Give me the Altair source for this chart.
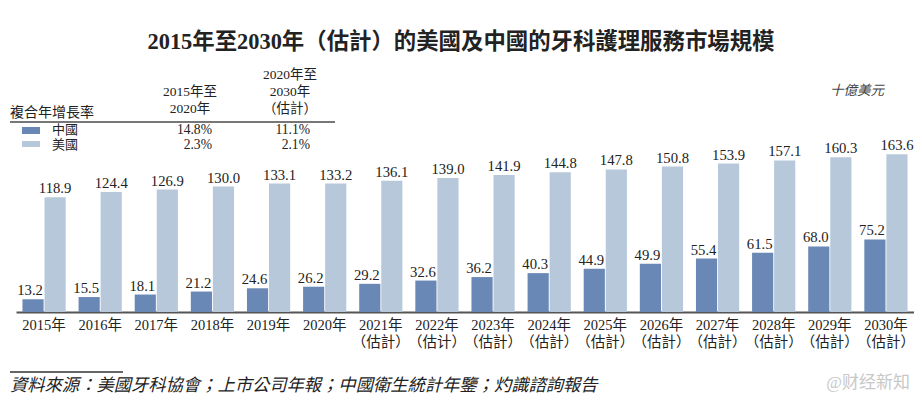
import altair as alt
import pandas as pd

years = ["2015年", "2016年", "2017年", "2018年", "2019年", "2020年",
         "2021年\n（估計）", "2022年\n（估计）", "2023年\n（估計）", "2024年\n（估計）",
         "2025年\n（估計）", "2026年\n（估計）", "2027年\n（估計）", "2028年\n（估計）",
         "2029年\n（估計）", "2030年\n（估計）"]
china = [13.2, 15.5, 18.1, 21.2, 24.6, 26.2, 29.2, 32.6, 36.2, 40.3, 44.9, 49.9, 55.4, 61.5, 68.0, 75.2]
usa = [118.9, 124.4, 126.9, 130.0, 133.1, 133.2, 136.1, 139.0, 141.9, 144.8, 147.8, 150.8, 153.9, 157.1, 160.3, 163.6]
series = ["中國", "美國"]
cagr_1520 = ["14.8%", "2.3%"]
cagr_2030 = ["11.1%", "2.1%"]

FONT = "Liberation Serif, Noto Sans CJK TC"
C_CN = "#6a88b5"
C_US = "#b7c8db"

rows = []
for i, y in enumerate(years):
    rows.append({"year": y, "series": "中國", "value": china[i], "order": 0})
    rows.append({"year": y, "series": "美國", "value": usa[i], "order": 1})
df = pd.DataFrame(rows)

x_enc = alt.X("year:N", sort=years,
              scale=alt.Scale(paddingInner=0.23, paddingOuter=0.115),
              axis=alt.Axis(title=None, labelAngle=0, ticks=False, domainColor="#555555",
                            domainWidth=2, labelFont=FONT, labelFontSize=14.5,
                            labelColor="#222222", labelPadding=6, labelLineHeight=17,
                            labelBaseline="top",
                            labelExpr="split(datum.label, '\\n')"))
xo_enc = alt.XOffset("series:N", sort=series, scale=alt.Scale(paddingInner=0.04))
y_enc = alt.Y("value:Q", scale=alt.Scale(domain=[0, 170]), axis=None)
color_enc = alt.Color("series:N", sort=series,
                      scale=alt.Scale(domain=series, range=[C_CN, C_US]), legend=None)

base = alt.Chart(df)
bars = base.mark_bar().encode(x=x_enc, xOffset=xo_enc, y=y_enc, color=color_enc)
lab_cn = base.transform_filter("datum.series == '中國'").mark_text(
    font=FONT, fontSize=14.7, color="#222222", baseline="bottom", dy=-1, dx=-3
).encode(x=x_enc, xOffset=xo_enc, y=y_enc, text=alt.Text("value:Q", format=".1f"))
lab_us = base.transform_filter("datum.series == '美國'").mark_text(
    font=FONT, fontSize=14.7, color="#222222", baseline="bottom", dy=-1
).encode(x=x_enc, xOffset=xo_enc, y=y_enc, text=alt.Text("value:Q", format=".1f"))

one = pd.DataFrame({"k": [0]})


def txt(s, x, y, size=13.5, align="center", weight="normal", style="normal", color="#222222"):
    return alt.Chart(one).mark_text(
        font=FONT, fontSize=size, align=align, baseline="middle",
        fontWeight=weight, fontStyle=style, color=color
    ).encode(x=alt.value(x), y=alt.value(y), text=alt.value(s))


def rule(x1, x2, y, color, w):
    return alt.Chart(one).mark_rule(color=color, strokeWidth=w).encode(
        x=alt.value(x1), x2=alt.value(x2), y=alt.value(y))


def rect(x1, x2, y1, y2, color):
    return alt.Chart(one).mark_rect(color=color).encode(
        x=alt.value(x1), x2=alt.value(x2), y=alt.value(y1), y2=alt.value(y2))


ann = [
    txt("2015年至2030年（估計）的美國及中國的牙科護理服務市場規模", 445, -106, size=22.4, weight="bold"),
    txt("複合年增長率", -6, -35, size=14, align="left"),
    txt("2015年至", 174, -56),
    txt("2020年", 174, -39),
    txt("2020年至", 274, -73),
    txt("2030年", 274, -56),
    txt("（估計）", 274, -39),
    rule(-6, 319, -26, "#777777", 2),
    rect(6, 24, -21, -14, C_CN),
    rect(6, 24, -7, -1, C_US),
    txt(series[0], 36, -18, size=13, align="left"),
    txt(series[1], 36, -3, size=13, align="left"),
    txt(cagr_1520[0], 196, -18, size=13.6, align="right"),
    txt(cagr_1520[1], 196, -3, size=13.6, align="right"),
    txt(cagr_2030[0], 294, -18, size=13.6, align="right"),
    txt(cagr_2030[1], 294, -3, size=13.6, align="right"),
    txt("十億美元", 841, -57, style="italic", color="#444444"),
    rule(-6, 107, 224, "#333333", 1.5),
    txt("資料來源：美國牙科協會；上市公司年報；中國衛生統計年鑒；灼識諮詢報告", -6, 238,
        size=17.3, align="left", style="italic"),
    txt("@财经新知", 894, 235, size=17, align="right", color="#c8c8c8"),
]

chart = alt.layer(bars, lab_cn, lab_us, *ann).properties(
    width=898, height=164,
    autosize=alt.AutoSizeParams(type="none"),
    padding={"left": 8, "top": 140, "right": 0, "bottom": 85},
).configure_view(stroke=None)

chart.save("out.html", embed_options={"renderer": "svg", "actions": False})
